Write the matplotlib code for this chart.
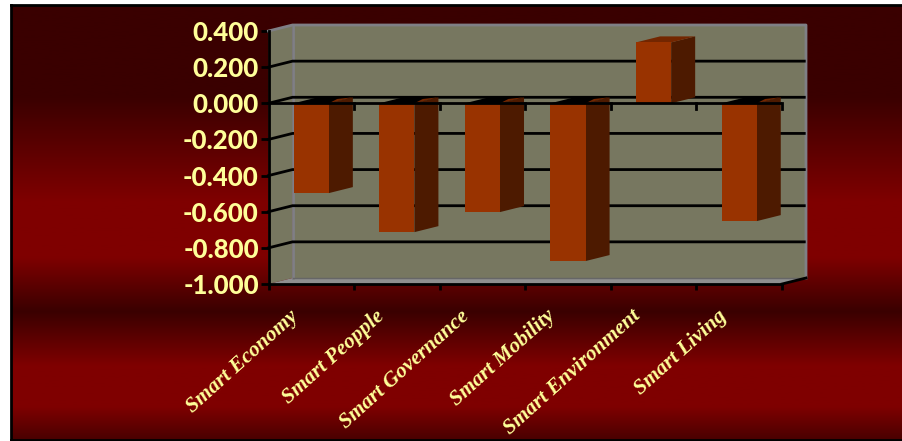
import numpy as np
import matplotlib
matplotlib.use('Agg')
import matplotlib.pyplot as plt
from matplotlib.patches import Polygon
from matplotlib.colors import LinearSegmentedColormap

categories = ['Smart Economy', 'Smart Peopple', 'Smart Governance',
              'Smart Mobility', 'Smart Environment', 'Smart Living']
values = [-0.497, -0.713, -0.602, -0.873, 0.337, -0.652]
y_ticks = [0.4, 0.2, 0.0, -0.2, -0.4, -0.6, -0.8, -1.0]

W, H = 902, 441
YELLOW = '#ffff99'
WALL = '#777760'
EDGE = '#7f7f85'
FRONT = '#993300'
SIDE = '#4d1a00'
TOP = '#732600'

fig = plt.figure(figsize=(W / 100, H / 100), dpi=100, facecolor='white')

# dark red banded background, framed on the left, top and bottom
bg = fig.add_axes([11 / W, 1 - 440 / H, 893 / W, 435 / H])
cmap = LinearSegmentedColormap.from_list('band', [
    (0.00, '#3a0000'), (0.21, '#3a0000'), (0.45, '#7f0000'), (0.58, '#7f0000'),
    (0.705, '#3a0000'), (0.83, '#7f0000'), (0.925, '#7f0000'), (1.00, '#4a0000')])
bg.imshow(np.linspace(0, 1, 256).reshape(-1, 1), aspect='auto', cmap=cmap)
bg.set_xticks([])
bg.set_yticks([])
for s in bg.spines.values():
    s.set_color('black')
    s.set_linewidth(2)

# front plane of the chart box
ax = fig.add_axes([268.5 / W, 1 - 284 / H, 513.5 / W, 253 / H])
ax.set_xlim(0, 6)
ax.set_ylim(-1.0, 0.4)
ax.patch.set_alpha(0)
for s in ['top', 'right']:
    ax.spines[s].set_visible(False)
for s in ['left', 'bottom']:
    ax.spines[s].set_linewidth(2)
    ax.spines[s].set_zorder(6)

dx = 24 / (513.5 / 6)
dy = 6 / (253 / 1.4)
y0, y1 = -1.0, 0.4
x1 = 6

def poly(pts, color, z, ec='none', lw=0):
    ax.add_patch(Polygon(pts, closed=True, fc=color, ec=ec, lw=lw, zorder=z, clip_on=False))

# side wall, back wall and floor
poly([(0, y0), (dx, y0 + dy), (dx, y1 + dy), (0, y1)], WALL, 1)
poly([(dx, y0 + dy), (x1 + dx, y0 + dy), (x1 + dx, y1 + dy), (dx, y1 + dy)], WALL, 1)
poly([(0, y0), (x1, y0), (x1 + dx, y0 + dy), (dx, y0 + dy)], '#8f8f8f', 1.5)
ax.plot([0, dx, x1 + dx, x1 + dx], [y1, y1 + dy, y1 + dy, y0 + dy], color=EDGE, lw=2, zorder=2, clip_on=False)
ax.plot([dx, dx], [y0 + dy, y1 + dy], color=EDGE, lw=2, zorder=2, clip_on=False)
ax.plot([dx, x1 + dx], [y0 + dy, y0 + dy], color='#666666', lw=1, zorder=2, clip_on=False)
ax.plot([x1, x1 + dx], [y0, y0 + dy], color='black', lw=2, zorder=3, clip_on=False)

# gridlines run along the side wall and the back wall
for t in y_ticks[1:-1]:
    ax.plot([0, dx, x1 + dx - 0.02], [t, t + dy, t + dy], color='black', lw=2, zorder=3, clip_on=False)

# zero line across the front with its own ticks
ax.plot([0, x1], [0, 0], color='black', lw=2, zorder=8)
for i in range(1, 7):
    ax.plot([i, i], [0, -0.03], color='black', lw=2, zorder=8, clip_on=False)

# bars drawn as boxes with front, side and top faces
bw = 0.41
for i, v in enumerate(values):
    l = i + 0.5 - bw / 2
    r = i + 0.5 + bw / 2
    lo, hi = min(v, 0), max(v, 0)
    poly([(r, lo), (r + dx, lo + dy), (r + dx, hi + dy), (r, hi)], SIDE, 5)
    poly([(l, hi), (r, hi), (r + dx, hi + dy), (l + dx, hi + dy)], TOP if v > 0 else 'black', 5)
    if v < 0:
        # most of the top face sits in shadow, only the far corner keeps its colour
        poly([(r, hi), (r + dx, hi + dy), (r + dx * 0.35, hi + dy * 0.72)], TOP, 5.5)
    poly([(l, lo), (r, lo), (r, hi), (l, hi)], FRONT, 7)

ax.set_yticks(y_ticks)
ax.set_yticklabels(['%.3f' % t for t in y_ticks], fontfamily='Lato', fontweight='black',
                   fontsize=18.5, color=YELLOW)
ax.set_xticks(range(0, 7))
ax.set_xticklabels([])
ax.tick_params(axis='y', length=6, width=2, color='black', pad=1)
ax.tick_params(axis='x', length=4, width=2, color='black')

# slanted category names ending just left of each bar's centre
for i, name in enumerate(categories):
    ax.annotate(name, xy=(i + 0.5, -1.0), xytext=(-16, -16), textcoords='offset points',
                rotation=42, rotation_mode='anchor', ha='right', va='top',
                fontfamily='Liberation Serif', fontweight='bold', fontstyle='italic',
                fontsize=15.5, color=YELLOW, annotation_clip=False)

fig.savefig('out.png', dpi=100, facecolor='white')
